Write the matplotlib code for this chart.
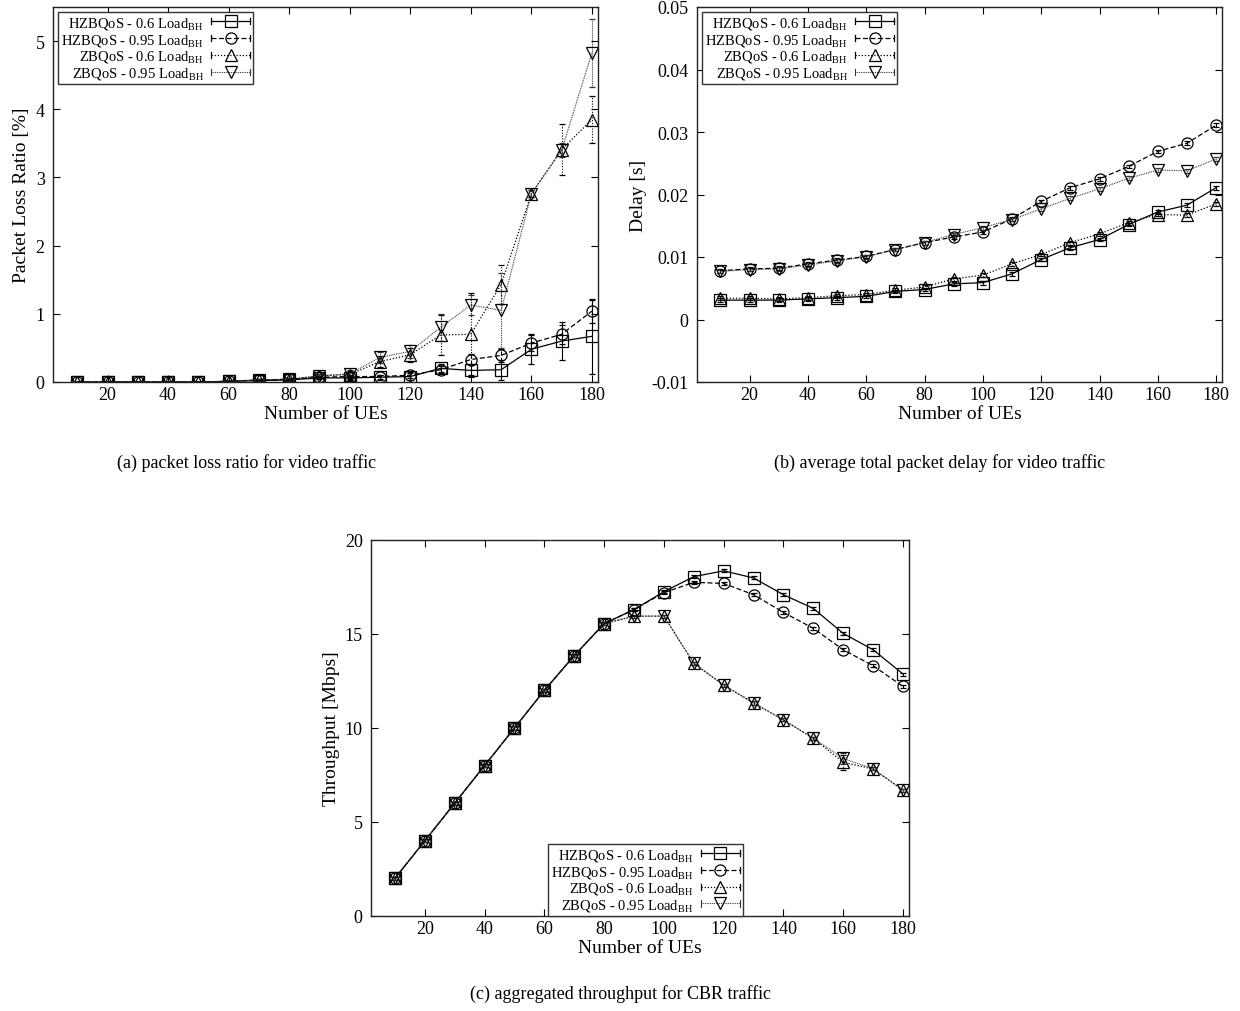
import matplotlib
matplotlib.use("Agg")
import matplotlib.pyplot as plt
from matplotlib.lines import Line2D
from matplotlib.legend_handler import HandlerBase

plt.rcParams['font.family'] = ['Liberation Serif', 'DejaVu Serif']
plt.rcParams['mathtext.fontset'] = 'custom'
plt.rcParams['mathtext.rm'] = 'Liberation Serif'
plt.rcParams['mathtext.it'] = 'Liberation Serif:italic'
plt.rcParams['mathtext.bf'] = 'Liberation Serif:bold'

# ---------------- data ----------------
num_ues = [10, 20, 30, 40, 50, 60, 70, 80, 90, 100, 110, 120, 130, 140, 150, 160, 170, 180]

series_labels = ["HZBQoS - 0.6 Load$_\\mathrm{BH}$", "HZBQoS - 0.95 Load$_\\mathrm{BH}$",
                 "ZBQoS - 0.6 Load$_\\mathrm{BH}$", "ZBQoS - 0.95 Load$_\\mathrm{BH}$"]

# (a) packet loss ratio [%]
loss_hz06 = [0, 0, 0, 0, 0, 0.01, 0.02, 0.03, 0.06, 0.06, 0.07, 0.08, 0.20, 0.17, 0.18, 0.48, 0.60, 0.67]
loss_hz06_err = [0, 0, 0, 0, 0, 0.01, 0.01, 0.01, 0.02, 0.03, 0.04, 0.05, 0.06, 0.10, 0.15, 0.22, 0.28, 0.55]
loss_hz095 = [0, 0, 0, 0, 0, 0.01, 0.03, 0.04, 0.07, 0.08, 0.08, 0.10, 0.18, 0.33, 0.39, 0.57, 0.70, 1.04]
loss_hz095_err = [0, 0, 0, 0, 0, 0.01, 0.01, 0.01, 0.02, 0.03, 0.03, 0.04, 0.05, 0.08, 0.10, 0.12, 0.14, 0.17]
loss_zb06 = [0, 0, 0, 0, 0, 0.01, 0.03, 0.04, 0.09, 0.11, 0.30, 0.40, 0.69, 0.70, 1.43, 2.76, 3.41, 3.85]
loss_zb06_err = [0, 0, 0, 0, 0, 0.01, 0.01, 0.02, 0.03, 0.05, 0.08, 0.10, 0.30, 0.60, 0.28, 0.05, 0.37, 0.34]
loss_zb095 = [0, 0, 0, 0, 0, 0.01, 0.03, 0.04, 0.09, 0.12, 0.36, 0.45, 0.80, 1.13, 1.05, 2.76, 3.40, 4.83]
loss_zb095_err = [0, 0, 0, 0, 0, 0.01, 0.01, 0.02, 0.03, 0.05, 0.08, 0.10, 0.20, 0.15, 0.55, 0.05, 0.10, 0.50]

# (b) delay [s]
delay_hz06 = [0.0031, 0.0031, 0.0031, 0.0033, 0.0035, 0.0037, 0.0045, 0.0048, 0.0057, 0.0059, 0.0073, 0.0096,
              0.0115, 0.0128, 0.0152, 0.0172, 0.0183, 0.0211]
delay_hz095 = [0.0078, 0.0081, 0.0082, 0.0089, 0.0095, 0.0101, 0.0112, 0.0123, 0.0132, 0.0140, 0.0161, 0.0189,
               0.0211, 0.0225, 0.0245, 0.0269, 0.0282, 0.0311]
delay_zb06 = [0.0034, 0.0034, 0.0033, 0.0035, 0.0038, 0.0040, 0.0047, 0.0052, 0.0065, 0.0071, 0.0089, 0.0104,
              0.0123, 0.0137, 0.0155, 0.0168, 0.0167, 0.0185]
delay_zb095 = [0.0077, 0.0080, 0.0081, 0.0087, 0.0094, 0.0100, 0.0112, 0.0123, 0.0136, 0.0147, 0.0160, 0.0177,
               0.0194, 0.0209, 0.0226, 0.0239, 0.0238, 0.0257]
delay_err = [0.0003] * 18

# (c) throughput [Mbps]
thr_hz06 = [2.0, 4.0, 6.0, 8.0, 10.0, 12.0, 13.85, 15.55, 16.3, 17.25, 18.05, 18.36, 17.98, 17.09, 16.36, 15.03, 14.16, 12.87]
thr_hz095 = [2.0, 4.0, 6.0, 8.0, 10.0, 12.0, 13.85, 15.55, 16.3, 17.2, 17.75, 17.69, 17.09, 16.15, 15.3, 14.16, 13.31, 12.21]
thr_zb06 = [2.0, 4.0, 6.0, 8.0, 10.0, 12.0, 13.85, 15.55, 15.95, 15.95, 13.44, 12.28, 11.33, 10.43, 9.45, 8.17, 7.82, 6.7]
thr_zb095 = [2.0, 4.0, 6.0, 8.0, 10.0, 12.0, 13.85, 15.55, 15.95, 15.95, 13.44, 12.28, 11.33, 10.43, 9.45, 8.38, 7.82, 6.7]
thr_err_hz = [0.08] * 18
thr_err_zb06 = [0.08] * 15 + [0.4, 0.08, 0.08]
thr_err_zb095 = [0.08] * 15 + [0.3, 0.08, 0.08]

x_ticks = [20, 40, 60, 80, 100, 120, 140, 160, 180]

# ---------------- styles ----------------
styles = [
    dict(marker='s', dashes=None, color='black', lw=0.9),
    dict(marker='o', dashes=(4, 2), color='black', lw=0.9),
    dict(marker='^', dashes=(1, 1.5), color='black', lw=0.9),
    dict(marker='v', dashes=(0.8, 0.8), color='#333333', lw=0.8),
]
MS = 8
TICK_FS = 13
LABEL_FS = 14
LEG_FS = 10.5


class GPHandler(HandlerBase):
    def create_artists(self, legend, orig_handle, xdescent, ydescent, width, height, fontsize, trans):
        y = height / 2 - ydescent
        x0 = -xdescent
        x1 = x0 + width
        line = Line2D([x0, x1], [y, y])
        line.update_from(orig_handle)
        line.set_marker('None')
        line.set_transform(trans)
        mark = Line2D([(x0 + x1) / 2], [y])
        mark.update_from(orig_handle)
        mark.set_linestyle('None')
        mark.set_transform(trans)
        cap = height * 0.3
        c1 = Line2D([x0, x0], [y - cap, y + cap], color=orig_handle.get_color(), lw=orig_handle.get_linewidth())
        c2 = Line2D([x1, x1], [y - cap, y + cap], color=orig_handle.get_color(), lw=orig_handle.get_linewidth())
        c1.set_transform(trans)
        c2.set_transform(trans)
        return [line, c1, c2, mark]


def draw_series(ax, ys, errs, st, ms=MS):
    kw = dict(color=st['color'], marker=st['marker'], markersize=ms, mfc='none', mec='black',
              mew=0.9, lw=st['lw'], capsize=2, elinewidth=0.8, capthick=0.8)
    cont = ax.errorbar(num_ues, ys, yerr=errs, **kw)
    ln = cont[0]
    if st['dashes'] is not None:
        ln.set_dashes(st['dashes'])
        for bc in cont[2]:
            bc.set_linestyle((0, st['dashes']))
    proxy = Line2D([], [], color=st['color'], marker=st['marker'], markersize=ms, mfc='none',
                   mec='black', mew=0.9, lw=st['lw'])
    if st['dashes'] is not None:
        proxy.set_dashes(st['dashes'])
    return proxy


def style_axes(ax):
    ax.tick_params(direction='in', top=True, right=True, length=5, width=0.8, labelsize=TICK_FS)
    ax.tick_params(axis='y', pad=6)
    ax.tick_params(axis='x', pad=3)
    for sp in ax.spines.values():
        sp.set_linewidth(1.0)
        sp.set_color('#222222')
    ax.set_xticks(x_ticks)
    ax.set_xlim(2, 182)


def add_legend(ax, handles, pad=0.3, **kw):
    leg = ax.legend(handles, series_labels, handler_map={Line2D: GPHandler()}, markerfirst=False,
                    fontsize=LEG_FS, frameon=True, fancybox=False, edgecolor='#333333', framealpha=1,
                    handlelength=2.7, handletextpad=0.5, labelspacing=0.05, borderpad=0.2,
                    borderaxespad=pad, **kw)
    leg.get_frame().set_linewidth(1.0)
    return leg


fig = plt.figure(figsize=(12.4, 10.12), dpi=100)

# (a)
axa = fig.add_axes([53 / 1240, 1 - 383 / 1012, 545 / 1240, 375 / 1012])
hs = []
for ys, es, st in [(loss_hz06, loss_hz06_err, styles[0]), (loss_hz095, loss_hz095_err, styles[1]),
                   (loss_zb06, loss_zb06_err, styles[2]), (loss_zb095, loss_zb095_err, styles[3])]:
    hs.append(draw_series(axa, ys, es, st))
style_axes(axa)
axa.set_ylim(0, 5.5)
axa.set_yticks([0, 1, 2, 3, 4, 5])
axa.set_xlabel("Number of UEs", fontsize=LABEL_FS, labelpad=1)
axa.set_ylabel("Packet Loss Ratio [%]", fontsize=LABEL_FS, labelpad=4)
add_legend(axa, hs, pad=0.35, loc='upper left', bbox_to_anchor=(0.0, 1.0))

# (b)
axb = fig.add_axes([697 / 1240, 1 - 383 / 1012, 525 / 1240, 375 / 1012])
hs = []
for ys, st in [(delay_hz06, styles[0]), (delay_hz095, styles[1]), (delay_zb06, styles[2]), (delay_zb095, styles[3])]:
    hs.append(draw_series(axb, ys, delay_err, st))
style_axes(axb)
axb.set_ylim(-0.01, 0.05)
yt = [-0.01, 0, 0.01, 0.02, 0.03, 0.04, 0.05]
axb.set_yticks(yt)
axb.set_yticklabels(["-0.01", "0", "0.01", "0.02", "0.03", "0.04", "0.05"])
axb.set_xlabel("Number of UEs", fontsize=LABEL_FS, labelpad=1)
axb.set_ylabel("Delay [s]", fontsize=LABEL_FS, labelpad=3)
add_legend(axb, hs, pad=0.35, loc='upper left', bbox_to_anchor=(0.0, 1.0))

# (c)
axc = fig.add_axes([371 / 1240, 1 - 917 / 1012, 538 / 1240, 376 / 1012])
hs = []
for ys, es, st in [(thr_hz06, thr_err_hz, styles[0]), (thr_hz095, thr_err_hz, styles[1]),
                   (thr_zb06, thr_err_zb06, styles[2]), (thr_zb095, thr_err_zb095, styles[3])]:
    hs.append(draw_series(axc, ys, es, st))
style_axes(axc)
axc.set_ylim(0, 20)
axc.set_yticks([0, 5, 10, 15, 20])
axc.set_xlabel("Number of UEs", fontsize=LABEL_FS, labelpad=1)
axc.set_ylabel("Throughput [Mbps]", fontsize=LABEL_FS, labelpad=3)
add_legend(axc, hs, pad=0, loc='lower center', bbox_to_anchor=(0.51, 0.0))

# captions
fig.text(247 / 1240, 1 - 463 / 1012, "(a) packet loss ratio for video traffic", ha='center', va='center', fontsize=13)
fig.text(940 / 1240, 1 - 463 / 1012, "(b) average total packet delay for video traffic", ha='center', va='center', fontsize=13)
fig.text(620 / 1240, 1 - 994 / 1012, "(c) aggregated throughput for CBR traffic", ha='center', va='center', fontsize=13)

fig.savefig("out.png", dpi=100)
